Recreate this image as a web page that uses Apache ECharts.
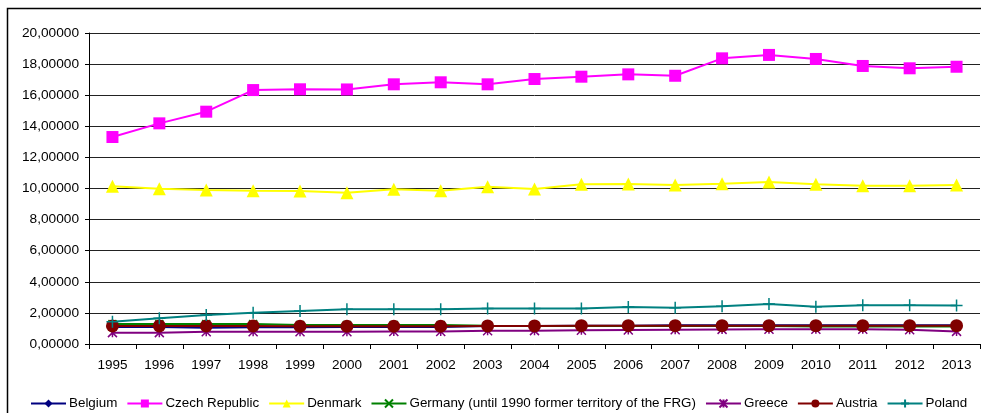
<!DOCTYPE html>
<html>
<head>
<meta charset="utf-8">
<script src="https://cdn.jsdelivr.net/npm/echarts@6/dist/echarts.min.js"></script>
<style>html,body{margin:0;padding:0;background:#fff}#c{width:981px;height:413px}</style>
</head>
<body>
<div id="c"></div>
<script>
const years = ['1995','1996','1997','1998','1999','2000','2001','2002','2003','2004','2005','2006','2007','2008','2009','2010','2011','2012','2013'];
const belgium = [1.10,1.10,1.05,1.07,1.08,1.10,1.10,1.10,1.15,1.15,1.17,1.18,1.20,1.20,1.20,1.20,1.20,1.20,1.20];
const czech = [13.31,14.19,14.94,16.33,16.38,16.37,16.70,16.83,16.70,17.04,17.19,17.34,17.25,18.37,18.59,18.33,17.88,17.73,17.83];
const denmark = [10.15,9.99,9.90,9.86,9.84,9.73,9.95,9.86,10.12,9.97,10.27,10.29,10.23,10.31,10.42,10.27,10.18,10.18,10.23];
const germany = [1.28,1.28,1.28,1.28,1.22,1.22,1.22,1.22,1.18,1.15,1.15,1.15,1.15,1.15,1.15,1.12,1.12,1.12,1.12];
const greece = [0.73,0.73,0.79,0.79,0.79,0.79,0.80,0.80,0.85,0.86,0.88,0.90,0.92,0.94,0.95,0.95,0.95,0.92,0.81];
const austria = [1.16,1.16,1.16,1.16,1.14,1.14,1.14,1.14,1.16,1.16,1.18,1.18,1.18,1.18,1.18,1.18,1.18,1.18,1.18];
const poland = [1.43,1.65,1.86,2.01,2.12,2.23,2.23,2.23,2.29,2.29,2.29,2.38,2.33,2.42,2.57,2.40,2.49,2.49,2.47];
const yTicks = {min:0, max:20, interval:2};

const font = 'Liberation Sans, Arial, sans-serif';
const xPath = 'path://M0,0 L10,10 M10,0 L0,10';
const starPath = 'path://M0,0 L10,10 M10,0 L0,10 M5,0 L5,10';
const plusPath = 'path://M5,0 L5,10 M0,5 L10,5';

function mk(name, data, color, symbol, size, stroke) {
  return {
    name, type:'line', data, symbol, symbolSize:size,
    lineStyle:{color, width:2},
    itemStyle: stroke ? {color:'rgba(0,0,0,0)', borderColor:color, borderWidth:1.5} : {color, borderColor:color, borderWidth:0},
    emphasis:{disabled:true}, animation:false
  };
}
const series = [
  mk('Belgium', belgium, '#000080', 'diamond', 9, false),
  mk('Czech Republic', czech, '#FF00FF', 'rect', 12, false),
  mk('Denmark', denmark, '#FFFF00', 'triangle', 13, false),
  mk('Germany (until 1990 former territory of the FRG)', germany, '#008000', xPath, 8, true),
  mk('Greece', greece, '#800080', starPath, 9, true),
  mk('Austria', austria, '#800000', 'circle', 13, false),
  mk('Poland', poland, '#008080', plusPath, 12, true)
];

const chart = echarts.init(document.getElementById('c'), null, {renderer:'canvas'});
chart.setOption({
  animation:false,
  graphic:[{type:'rect', shape:{x:7.5, y:8.5, width:1000, height:500}, style:{fill:'none', stroke:'#000', lineWidth:1.5}, silent:true, z:-1}],
  grid:{left:89, top:33, right:1, bottom:69, containLabel:false},
  legend:{left:30, right:0, top:397, padding:0, itemWidth:35, itemHeight:10, itemGap:9,
    textStyle:{fontFamily:font, fontSize:13.4, color:'#000', padding:[0,0,0,-2]}},
  xAxis:{type:'category', data:years, boundaryGap:true,
    axisLine:{lineStyle:{color:'#000', width:1}},
    axisTick:{show:true, inside:false, length:5, alignWithLabel:false, lineStyle:{color:'#000'}},
    axisLabel:{fontFamily:font, fontSize:13.5, color:'#000', margin:14},
    splitLine:{show:false}},
  yAxis:{type:'value', min:yTicks.min, max:yTicks.max, interval:yTicks.interval,
    axisLine:{show:true, lineStyle:{color:'#000', width:1}},
    axisTick:{show:true, length:4, lineStyle:{color:'#000'}},
    axisLabel:{fontFamily:font, fontSize:13.7, color:'#000', margin:10,
      formatter:v=>v.toFixed(5).replace('.',',')},
    splitLine:{show:true, lineStyle:{color:'#222', width:1}}},
  series
});
</script>
</body>
</html>
